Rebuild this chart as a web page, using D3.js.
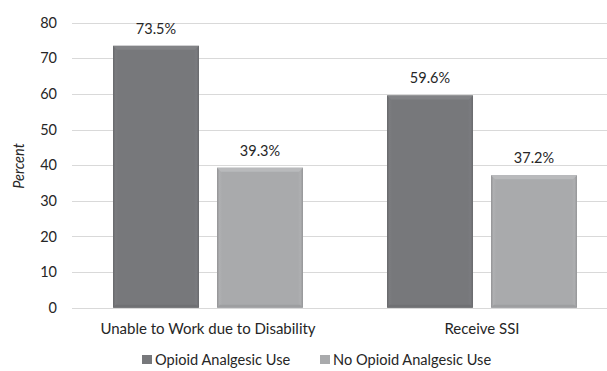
<!DOCTYPE html>
<html><head><meta charset="utf-8">
<script src="https://cdn.jsdelivr.net/npm/d3@7"></script>
<style>body{margin:0;background:#fff}svg{display:block}text{font-family:Lato,"Open Sans",sans-serif;fill:#262626}</style>
</head><body><svg id="c" width="607" height="371"></svg>
<script>
const categories = ["Unable to Work due to Disability", "Receive SSI"];
const series = ["Opioid Analgesic Use", "No Opioid Analgesic Use"];
const opioidValues = [73.5, 59.6];
const noOpioidValues = [39.3, 37.2];
const yTicks = [0, 10, 20, 30, 40, 50, 60, 70, 80];
const colors = ["#77787b", "#a9aaac"];

const svg = d3.select("#c");
const y = d3.scaleLinear().domain([0, 80]).range([307.7, 22.7]);
const x0 = d3.scaleBand().domain(categories).range([71, 619]);
const x1 = d3.scaleBand().domain(series).range([42, 232]).paddingInner(0.173);

svg.append("g").selectAll("line").data(yTicks).join("line")
  .attr("x1", 72).attr("x2", 607)
  .attr("y1", d => Math.round(y(d)) + 0.5).attr("y2", d => Math.round(y(d)) + 0.5)
  .attr("stroke", "#d9d9d9").attr("stroke-width", 1.2);

const yAxis = d3.axisLeft(y).tickValues(yTicks).tickSize(0).tickPadding(0);
const ga = svg.append("g").attr("transform", "translate(57,0)").call(yAxis);
ga.select(".domain").remove();
ga.selectAll("text").attr("font-size", 14.5).style("font-family", "Lato,'Open Sans',sans-serif").attr("fill", "#262626");

svg.append("text").attr("transform", "translate(24,166) rotate(-90)")
  .attr("text-anchor", "middle").attr("font-size", 14.5).attr("font-style", "italic").text("Percent");

const defs = svg.append("defs");
colors.forEach((c, i) => {
  const g = defs.append("linearGradient").attr("id", "h" + i).attr("x1", 0).attr("x2", 1).attr("y1", 0).attr("y2", 0);
  const cc = d3.color(c);
  g.append("stop").attr("offset", "0%").attr("stop-color", cc.darker(0.4));
  g.append("stop").attr("offset", "3%").attr("stop-color", cc.brighter(0.1));
  g.append("stop").attr("offset", "6%").attr("stop-color", c);
  g.append("stop").attr("offset", "94%").attr("stop-color", c);
  g.append("stop").attr("offset", "97%").attr("stop-color", cc.brighter(0.08));
  g.append("stop").attr("offset", "100%").attr("stop-color", cc.darker(0.35));
});

const data = [];
categories.forEach((cat, ci) => {
  data.push({cat, s: series[0], v: opioidValues[ci], i: 0});
  data.push({cat, s: series[1], v: noOpioidValues[ci], i: 1});
});

const bars = svg.append("g").selectAll("g").data(data).join("g");
bars.append("rect")
  .attr("x", d => x0(d.cat) + x1(d.s)).attr("width", x1.bandwidth())
  .attr("y", d => y(d.v)).attr("height", d => y(0) - y(d.v))
  .attr("fill", d => "url(#h" + d.i + ")");
bars.append("path")
  .attr("d", d => {
    const xl = x0(d.cat) + x1(d.s), xr = xl + x1.bandwidth(), t = y(d.v);
    return `M${xl},${t}L${xr},${t}L${xr-4},${t+4}L${xl+4},${t+4}Z`;
  })
  .attr("fill", d => d3.color(colors[d.i]).brighter(0.25));
bars.append("path")
  .attr("d", d => {
    const xl = x0(d.cat) + x1(d.s), xr = xl + x1.bandwidth(), b = y(0);
    return `M${xl},${b}L${xr},${b}L${xr-3},${b-3}L${xl+3},${b-3}Z`;
  })
  .attr("fill", d => d3.color(colors[d.i]).darker(0.2));

bars.append("text")
  .attr("x", d => x0(d.cat) + x1(d.s) + x1.bandwidth() / 2)
  .attr("y", d => y(d.v) - 12)
  .attr("text-anchor", "middle").attr("font-size", 14.5)
  .text(d => d.v.toFixed(1) + "%");

const xAxis = d3.axisBottom(x0).tickSize(0).tickPadding(0);
const gx = svg.append("g").attr("transform", "translate(0,323)").call(xAxis);
gx.select(".domain").remove();
gx.selectAll("text").attr("font-size", 15).style("font-family", "Lato,'Open Sans',sans-serif").attr("fill", "#262626");
gx.selectAll(".tick").attr("transform", d => `translate(${x0(d) + (x1.range()[0] + x1.range()[1]) / 2},0)`);

const legX = [142, 320];
const leg = svg.append("g").selectAll("g").data(series).join("g")
  .attr("transform", (d, i) => `translate(${legX[i]},355)`);
leg.append("rect").attr("width", 10).attr("height", 9).attr("y", 0)
  .attr("fill", (d, i) => colors[i]);
leg.append("text").attr("x", 13).attr("y", 9.5).attr("font-size", 14.6).text(d => d);
</script></body></html>
